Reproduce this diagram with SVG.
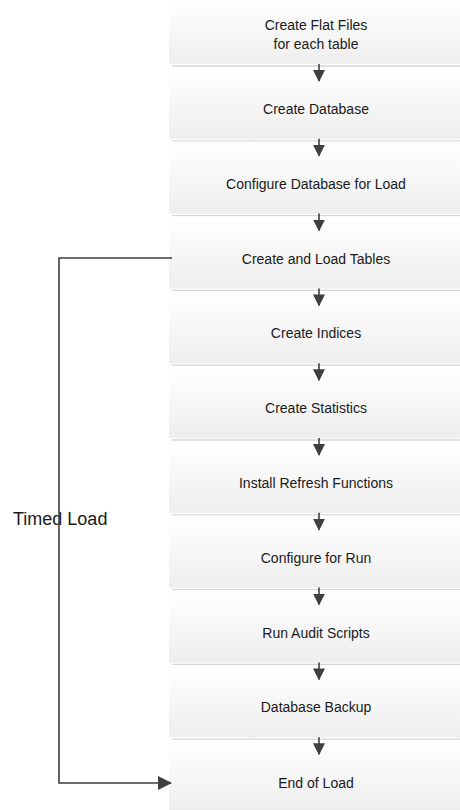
<svg xmlns="http://www.w3.org/2000/svg" width="460" height="810" viewBox="0 0 460 810">
<defs>
<linearGradient id="g" x1="0" y1="0" x2="0" y2="1">
<stop offset="0" stop-color="#ffffff"/>
<stop offset="1" stop-color="#eeeeee"/>
</linearGradient>
<marker id="ah" viewBox="0 0 12 12" refX="11" refY="6" markerWidth="12" markerHeight="12" markerUnits="userSpaceOnUse" orient="auto">
<path d="M0,0 L12,6 L0,12 Z" fill="#3f3f3f"/>
</marker>
<marker id="ah2" viewBox="0 0 14 14" refX="13" refY="7" markerWidth="14" markerHeight="14" markerUnits="userSpaceOnUse" orient="auto">
<path d="M0,0 L14,7 L0,14 Z" fill="#3f3f3f"/>
</marker>
</defs>
<style>
.box{fill:url(#g);}
.sep{stroke:#d6d6d6;stroke-width:1.3;fill:none;}
.t{font-family:"Liberation Sans",Arial,sans-serif;font-size:14px;fill:#1a1a1a;text-anchor:middle;}
.lbl{font-family:"Liberation Sans",Arial,sans-serif;font-size:18px;fill:#1a1a1a;}
.c{stroke:#3f3f3f;stroke-width:1.6;fill:none;}
</style>
<rect width="460" height="810" fill="#ffffff"/>

<g id="n0"><rect class="box" x="169" y="0" width="291" height="64"/><line class="sep" x1="172" y1="66" x2="460" y2="66"/><text class="t" x="316" y="30">Create Flat Files</text><text class="t" x="316" y="49">for each table</text></g>
<g id="n1"><rect class="box" x="169" y="67" width="291" height="72"/><line class="sep" x1="172" y1="140.8" x2="460" y2="140.8"/><text class="t" x="316" y="114">Create Database</text></g>
<g id="n2"><rect class="box" x="169" y="141.8" width="291" height="72"/><line class="sep" x1="172" y1="215.6" x2="460" y2="215.6"/><text class="t" x="316" y="189">Configure Database for Load</text></g>
<g id="n3"><rect class="box" x="169" y="216.6" width="291" height="72"/><line class="sep" x1="172" y1="290.4" x2="460" y2="290.4"/><text class="t" x="316" y="263.5">Create and Load Tables</text></g>
<g id="n4"><rect class="box" x="169" y="291.4" width="291" height="72"/><line class="sep" x1="172" y1="365.2" x2="460" y2="365.2"/><text class="t" x="316" y="338.4">Create Indices</text></g>
<g id="n5"><rect class="box" x="169" y="366.2" width="291" height="72"/><line class="sep" x1="172" y1="440" x2="460" y2="440"/><text class="t" x="316" y="413.2">Create Statistics</text></g>
<g id="n6"><rect class="box" x="169" y="441" width="291" height="72"/><line class="sep" x1="172" y1="514.8" x2="460" y2="514.8"/><text class="t" x="316" y="488">Install Refresh Functions</text></g>
<g id="n7"><rect class="box" x="169" y="515.8" width="291" height="72"/><line class="sep" x1="172" y1="589.6" x2="460" y2="589.6"/><text class="t" x="316" y="562.8">Configure for Run</text></g>
<g id="n8"><rect class="box" x="169" y="590.6" width="291" height="72"/><line class="sep" x1="172" y1="664.4" x2="460" y2="664.4"/><text class="t" x="316" y="637.6">Run Audit Scripts</text></g>
<g id="n9"><rect class="box" x="169" y="665.4" width="291" height="72"/><line class="sep" x1="172" y1="739.2" x2="460" y2="739.2"/><text class="t" x="316" y="712.4">Database Backup</text></g>
<g id="n10"><rect class="box" x="169" y="740.2" width="291" height="70"/><text class="t" x="316" y="787.5">End of Load</text></g>

<text class="lbl" x="13" y="525">Timed Load</text>

<g id="connectors">
<line class="c" x1="319" y1="64" x2="319" y2="81" marker-end="url(#ah)"/>
<line class="c" x1="319" y1="138.8" x2="319" y2="155.8" marker-end="url(#ah)"/>
<line class="c" x1="319" y1="213.6" x2="319" y2="230.6" marker-end="url(#ah)"/>
<line class="c" x1="319" y1="288.4" x2="319" y2="305.4" marker-end="url(#ah)"/>
<line class="c" x1="319" y1="363.2" x2="319" y2="380.2" marker-end="url(#ah)"/>
<line class="c" x1="319" y1="438" x2="319" y2="455" marker-end="url(#ah)"/>
<line class="c" x1="319" y1="512.8" x2="319" y2="529.8" marker-end="url(#ah)"/>
<line class="c" x1="319" y1="587.6" x2="319" y2="604.6" marker-end="url(#ah)"/>
<line class="c" x1="319" y1="662.4" x2="319" y2="679.4" marker-end="url(#ah)"/>
<line class="c" x1="319" y1="737.2" x2="319" y2="754.2" marker-end="url(#ah)"/>
<polyline class="c" points="172,258 59,258 59,783 171,783" marker-end="url(#ah2)"/>
</g>
</svg>
